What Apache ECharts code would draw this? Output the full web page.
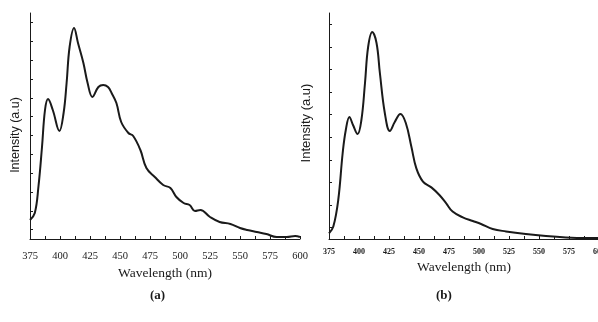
<!DOCTYPE html>
<html>
<head>
<meta charset="utf-8">
<script src="https://cdn.jsdelivr.net/npm/echarts@6/dist/echarts.min.js"></script>
<style>
  html, body { margin: 0; padding: 0; background: #fff; }
  #chart { width: 598px; height: 322px; }
</style>
</head>
<body>
<div id="chart"></div>
<script>
// Spectrum (a)
const waveA = [375, 379, 382, 385, 387.5, 390, 394, 399.5, 403, 405.5, 408, 411.7, 415, 419.5, 423, 427,
  432, 436, 440, 443, 447, 451, 457, 461, 467, 472, 479, 486, 492, 497, 503, 508, 512.5, 517,
  525, 533, 542, 550, 556, 564, 572, 580.5, 589, 596, 600];
const intensityA = [9.5, 13, 26, 46, 64.5, 70, 64.5, 54, 63, 78, 96, 105.5, 98, 88, 78, 71,
  76, 77, 76, 73, 68, 58.5, 53, 51.5, 44.5, 35.5, 31, 27, 25.5, 21, 18, 17, 14, 14.5,
  11, 8.5, 7.5, 5.5, 4.5, 3.5, 2.5, 1, 1, 1.5, 1];

// Spectrum (b)
const waveB = [375, 378.6, 382.7, 386.4, 389, 392, 395, 398.8, 402, 405, 407.6, 411, 414.6, 417.4,
  421.5, 425.7, 429.8, 434.5, 439, 443.7, 447.8, 453.3, 460.3, 467, 472.7, 478, 486.5, 494.8,
  501.7, 511.4, 522.5, 539, 555.8, 572.4, 589, 600];
const intensityB = [2.8, 6.2, 19.5, 43, 54.5, 61, 57, 52.5, 59.5, 78, 96, 103.5, 98, 83,
  63, 54, 58.5, 62.5, 58, 46, 35.3, 28.7, 25.8, 22, 17.8, 13.7, 10.8, 9,
  7.5, 5, 3.8, 2.5, 1.5, 0.8, 0.5, 0.5];

const yTicksA = ["1", "2", "3", "4", "5", "6", "7", "8", "9", "10", "11", "12"];
const yTicksB = ["1", "2", "3", "4", "5", "6", "7", "8", "9", "10"];

const ink = "#1a1a1a";

const chart = echarts.init(document.getElementById("chart"));

function xAxisFor(gridIndex, labelStyle, nameGap) {
  return {
    type: "value",
    gridIndex: gridIndex,
    min: 375,
    max: 600,
    interval: 25,
    name: "Wavelength (nm)",
    nameLocation: "middle",
    nameGap: nameGap,
    nameTextStyle: { fontFamily: "Liberation Serif", fontSize: 13.5, color: ink },
    axisLine: { show: true, onZero: false, lineStyle: { color: ink, width: 1 } },
    axisTick: { show: true, inside: true, length: 3, lineStyle: { color: ink } },
    minorTick: { show: true, splitNumber: 2, length: 3, lineStyle: { color: ink } },
    axisLabel: Object.assign({ color: ink, showMinLabel: true, showMaxLabel: true }, labelStyle),
    splitLine: { show: false },
  };
}

// tick-only y axes (ticks sit half a step in from both ends)
function tickAxisFor(gridIndex, cats) {
  return {
    type: "category",
    gridIndex: gridIndex,
    position: "left",
    data: cats,
    boundaryGap: true,
    axisLine: { show: false },
    axisTick: { show: true, inside: true, alignWithLabel: true, length: 3, lineStyle: { color: ink } },
    axisLabel: { show: false },
    splitLine: { show: false },
  };
}

const option = {
  animation: false,
  grid: [
    { left: 30, top: 13, width: 270, height: 226, outerBoundsMode: "none" },
    { left: 329, top: 13, width: 270, height: 226, outerBoundsMode: "none" },
  ],
  xAxis: [
    xAxisFor(0, { fontFamily: "Liberation Serif", fontSize: 10.5, margin: 12 }, 25),
    xAxisFor(1, { fontFamily: "Liberation Serif", fontSize: 8, fontWeight: "bold", margin: 9 }, 19),
  ],
  yAxis: [
    {
      type: "value",
      gridIndex: 0,
      min: 0,
      max: 113,
      name: "Intensity (a.u)",
      nameLocation: "middle",
      nameGap: 8,
      nameTextStyle: { fontFamily: "Liberation Sans", fontSize: 12.5, color: ink, padding: [0, 18, 0, 0] },
      axisLine: { show: true, lineStyle: { color: ink, width: 1 } },
      axisTick: { show: false },
      axisLabel: { show: false },
      splitLine: { show: false },
    },
    {
      type: "value",
      gridIndex: 1,
      min: 0,
      max: 113,
      name: "Intensity (a.u)",
      nameLocation: "middle",
      nameGap: 16,
      nameTextStyle: { fontFamily: "Liberation Sans", fontSize: 13, color: ink, padding: [0, 0, 0, 6] },
      axisLine: { show: true, lineStyle: { color: ink, width: 1 } },
      axisTick: { show: false },
      axisLabel: { show: false },
      splitLine: { show: false },
    },
    tickAxisFor(0, yTicksA),
    tickAxisFor(1, yTicksB),
  ],
  series: [
    {
      type: "line",
      xAxisIndex: 0,
      yAxisIndex: 0,
      data: waveA.map((w, i) => [w, intensityA[i]]),
      smooth: 0.4,
      symbol: "none",
      lineStyle: { color: ink, width: 2 },
    },
    {
      type: "line",
      xAxisIndex: 1,
      yAxisIndex: 1,
      data: waveB.map((w, i) => [w, intensityB[i]]),
      smooth: 0.4,
      symbol: "none",
      lineStyle: { color: ink, width: 2 },
    },
  ],
  graphic: [
    {
      type: "text",
      left: 150,
      top: 289,
      style: { text: "(a)", font: "bold 13px 'Liberation Serif'", fill: ink },
    },
    {
      type: "text",
      left: 436,
      top: 289,
      style: { text: "(b)", font: "bold 13px 'Liberation Serif'", fill: ink },
    },
  ],
};

chart.setOption(option);
</script>
</body>
</html>
